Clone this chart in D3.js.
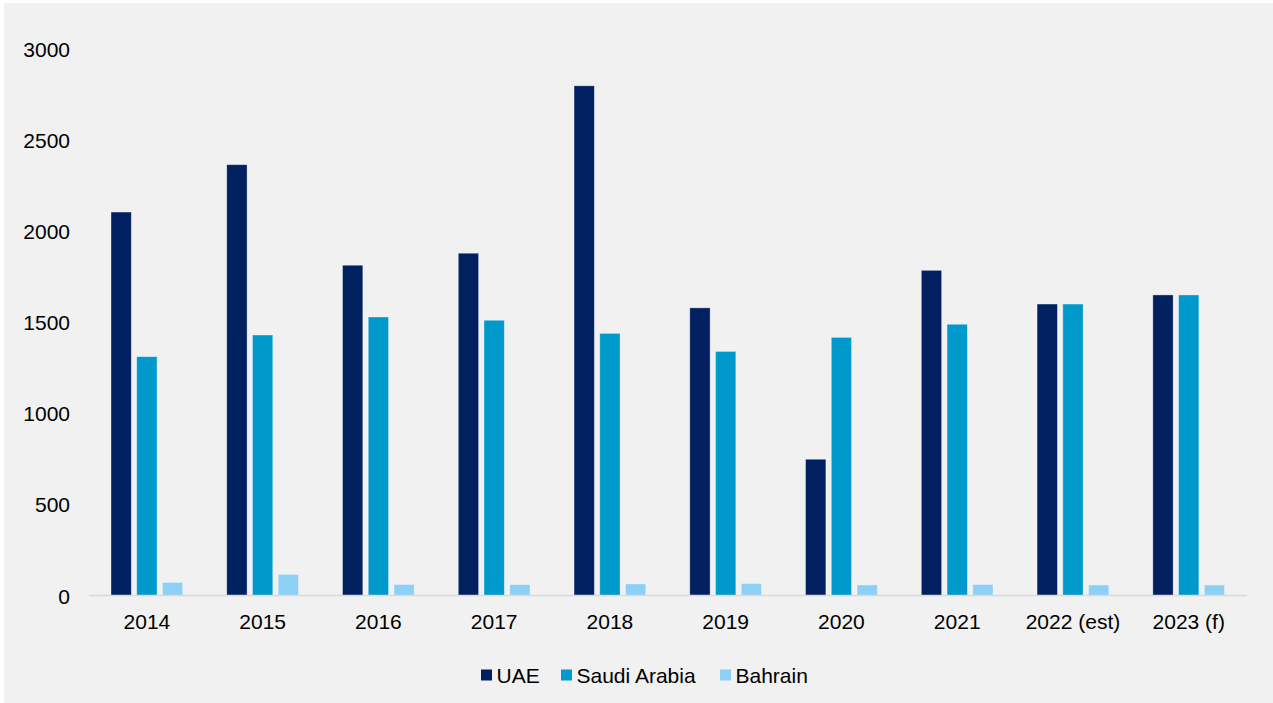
<!DOCTYPE html>
<html>
<head>
<meta charset="utf-8">
<script src="https://cdn.jsdelivr.net/npm/d3@7"></script>
<style>
  html, body { margin: 0; padding: 0; background: #ffffff; }
  svg { display: block; }
  text { font-family: "Liberation Sans", Arial, sans-serif; }
</style>
</head>
<body>
<svg id="chart" width="1273" height="703"></svg>
<script>
const categories = ["2014", "2015", "2016", "2017", "2018", "2019", "2020", "2021", "2022 (est)", "2023 (f)"];
const seriesNames = ["UAE", "Saudi Arabia", "Bahrain"];
const uaeValues = [2105, 2365, 1813, 1879, 2798, 1579, 748, 1785, 1600, 1650];
const saudiValues = [1311, 1430, 1529, 1511, 1439, 1340, 1417, 1489, 1600, 1650];
const bahrainValues = [72, 116, 61, 60, 64, 66, 58, 61, 58, 58];
const yTicks = [0, 500, 1000, 1500, 2000, 2500, 3000];
const colors = ["#002060", "#0099CC", "#8CD1F5"];

(function () {
const seriesValues = [uaeValues, saudiValues, bahrainValues];
const data = categories.map((c, i) => ({
  cat: c,
  vals: seriesNames.map((s, j) => ({ key: s, value: seriesValues[j][i], color: colors[j] }))
}));

const svg = d3.select("#chart");
svg.append("rect").attr("x", 4).attr("y", 3).attr("width", 1269).attr("height", 700).attr("fill", "#F1F1F1");

const mLeft = 89, mRight = 1246.6, mTop = 49, mBottom = 595.5;

const x0 = d3.scaleBand().domain(categories).range([mLeft, mRight]).paddingInner(0.38).paddingOuter(0.19);
const x1 = d3.scaleBand().domain(seriesNames).range([0, x0.bandwidth()]).paddingInner(0.21).paddingOuter(0);
const y = d3.scaleLinear().domain([0, 3000]).range([mBottom, mTop]);

// Y axis labels
const yAxis = d3.axisLeft(y).tickValues(yTicks).tickSize(0).tickPadding(0).tickFormat(d3.format("d"));
const yg = svg.append("g").attr("transform", "translate(70,0)").call(yAxis);
yg.select(".domain").remove();
yg.selectAll("text").attr("font-size", 21).attr("fill", "#000").attr("font-family", "Liberation Sans, Arial, sans-serif").attr("dy", "0.36em");

// Bars
const groups = svg.append("g").selectAll("g").data(data).join("g")
  .attr("transform", d => `translate(${x0(d.cat)},0)`);
groups.selectAll("rect").data(d => d.vals).join("rect")
  .attr("x", d => x1(d.key))
  .attr("y", d => y(d.value))
  .attr("width", x1.bandwidth())
  .attr("height", d => y(0) - y(d.value))
  .attr("fill", d => d.color)
  .attr("stroke", "rgba(255,255,255,0.45)")
  .attr("stroke-width", 0.8);

// X axis
const xAxis = d3.axisBottom(x0).tickSize(0).tickPadding(0);
const xg = svg.append("g").attr("transform", `translate(0,${mBottom})`).call(xAxis);
xg.select(".domain").attr("stroke", "#D9D9D9").attr("stroke-width", 1.3)
  .attr("d", `M${mLeft},0H${mRight}`);
xg.selectAll("text").attr("font-size", 21).attr("fill", "#000").attr("font-family", "Liberation Sans, Arial, sans-serif")
  .attr("dy", null).attr("y", 33);

// Legend
const legendItems = [
  { name: seriesNames[0], color: colors[0], x: 481 },
  { name: seriesNames[1], color: colors[1], x: 561 },
  { name: seriesNames[2], color: colors[2], x: 720 }
];
const lg = svg.append("g");
lg.selectAll("rect").data(legendItems).join("rect")
  .attr("x", d => d.x).attr("y", 669.5).attr("width", 11).attr("height", 11).attr("fill", d => d.color);
lg.selectAll("text").data(legendItems).join("text")
  .attr("x", d => d.x + 15.5).attr("y", 682.5)
  .attr("font-size", 21).attr("fill", "#000")
  .text(d => d.name);
})();
</script>
</body>
</html>
